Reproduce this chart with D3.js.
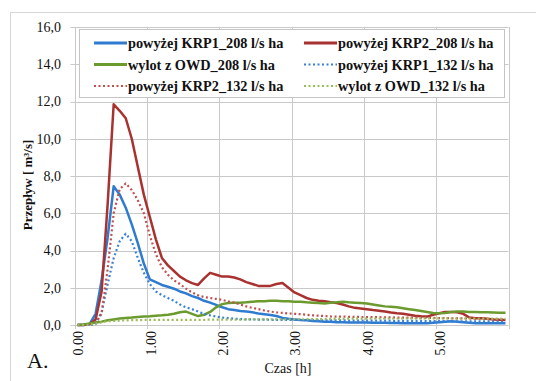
<!DOCTYPE html>
<html>
<head>
<meta charset="utf-8">
<script src="https://cdn.jsdelivr.net/npm/d3@7"></script>
<style>
body { margin:0; background:#fff; }
text { font-family:"Liberation Serif","Times New Roman",serif; fill:#111; }
</style>
</head>
<body>
<script>
// przeplyw w czasie, krok 5 min
var steps = d3.range(72);   // kategorie 0:00 .. 5:55
var xTickIdx = [0, 12, 24, 36, 48, 60];
var xTickLabels = ["0.00", "1.00", "2.00", "3.00", "4.00", "5.00"];
var yTicks = [0, 2, 4, 6, 8, 10, 12, 14, 16];

var krp1_208 = [0, 0, 0.05, 0.6, 2.4, 4.7, 7.45, 7.0, 6.3, 5.4,
	4.4, 3.3, 2.45, 2.3, 2.15, 2.05, 1.95, 1.8, 1.7, 1.55,
	1.45, 1.3, 1.2, 1.08, 0.95, 0.85, 0.8, 0.75, 0.72, 0.68,
	0.62, 0.58, 0.54, 0.48, 0.38, 0.33, 0.3, 0.27, 0.25, 0.22,
	0.2, 0.18, 0.17, 0.15, 0.15, 0.14, 0.14, 0.13, 0.13, 0.12,
	0.12, 0.12, 0.11, 0.11, 0.1, 0.1, 0.1, 0.09, 0.09, 0.12,
	0.15, 0.18, 0.2, 0.18, 0.15, 0.12, 0.1, 0.1, 0.09, 0.09,
	0.09, 0.1];
var krp2_208 = [0, 0, 0.05, 0.3, 1.8, 6.5, 11.85, 11.5, 11.1, 10.0,
	8.5, 7.0, 5.8, 4.6, 3.6, 3.2, 2.9, 2.6, 2.4, 2.25,
	2.15, 2.5, 2.8, 2.7, 2.6, 2.6, 2.55, 2.45, 2.3, 2.2,
	2.1, 2.1, 2.1, 2.2, 2.25, 2.0, 1.75, 1.6, 1.45, 1.35,
	1.3, 1.27, 1.22, 1.18, 1.1, 1.0, 0.92, 0.88, 0.84, 0.8,
	0.77, 0.72, 0.67, 0.63, 0.6, 0.55, 0.5, 0.47, 0.45, 0.55,
	0.63, 0.7, 0.7, 0.68, 0.6, 0.4, 0.36, 0.36, 0.33, 0.3,
	0.28, 0.27];
var owd_208 = [0, 0.03, 0.08, 0.13, 0.18, 0.25, 0.3, 0.35, 0.38, 0.4,
	0.43, 0.45, 0.47, 0.5, 0.52, 0.55, 0.6, 0.68, 0.72, 0.6,
	0.48, 0.55, 0.7, 0.95, 1.12, 1.18, 1.2, 1.2, 1.22, 1.25,
	1.27, 1.28, 1.3, 1.3, 1.28, 1.27, 1.25, 1.25, 1.22, 1.2,
	1.18, 1.16, 1.2, 1.22, 1.25, 1.22, 1.2, 1.18, 1.15, 1.1,
	1.05, 1.0, 0.98, 0.95, 0.9, 0.85, 0.8, 0.75, 0.7, 0.65,
	0.63, 0.65, 0.7, 0.72, 0.72, 0.7, 0.7, 0.68, 0.68, 0.67,
	0.66, 0.66];
var krp1_132 = [0, 0, 0, 0.05, 0.7, 2.2, 3.6, 4.5, 4.9, 4.5,
	3.6, 2.8, 2.2, 1.8, 1.6, 1.45, 1.3, 1.1, 0.95, 0.85,
	0.72, 0.6, 0.52, 0.45, 0.4, 0.37, 0.34, 0.32, 0.3, 0.3,
	0.29, 0.29, 0.28, 0.28, 0.28, 0.27, 0.27, 0.27, 0.26, 0.26,
	0.26, 0.25, 0.25, 0.25, 0.25, 0.24, 0.24, 0.24, 0.24, 0.23,
	0.23, 0.23, 0.23, 0.22, 0.22, 0.22, 0.22, 0.22, 0.21, 0.21,
	0.21, 0.21, 0.2, 0.2, 0.2, 0.2, 0.2, 0.19, 0.19, 0.19,
	0.18, 0.18];
var krp2_132 = [0, 0, 0, 0.1, 0.6, 3.0, 6.0, 7.3, 7.6, 7.25,
	6.7, 6.0, 4.8, 3.8, 3.1, 2.7, 2.4, 2.2, 1.95, 1.75,
	1.6, 1.5, 1.45, 1.4, 1.35, 1.27, 1.2, 1.1, 1.0, 0.92,
	0.85, 0.78, 0.72, 0.68, 0.65, 0.62, 0.6, 0.58, 0.55, 0.52,
	0.5, 0.48, 0.46, 0.45, 0.45, 0.44, 0.44, 0.43, 0.43, 0.42,
	0.42, 0.41, 0.41, 0.4, 0.4, 0.4, 0.39, 0.39, 0.38, 0.38,
	0.37, 0.37, 0.36, 0.36, 0.35, 0.35, 0.34, 0.33, 0.32, 0.31,
	0.3, 0.29];
var owd_132 = [0, 0, 0.02, 0.08, 0.15, 0.2, 0.22, 0.24, 0.25, 0.26,
	0.26, 0.27, 0.27, 0.27, 0.28, 0.28, 0.28, 0.28, 0.28, 0.28,
	0.28, 0.28, 0.29, 0.29, 0.29, 0.29, 0.29, 0.29, 0.3, 0.3,
	0.3, 0.3, 0.3, 0.3, 0.3, 0.31, 0.31, 0.31, 0.31, 0.32,
	0.32, 0.32, 0.33, 0.33, 0.33, 0.34, 0.34, 0.34, 0.34, 0.35,
	0.35, 0.35, 0.35, 0.35, 0.36, 0.36, 0.36, 0.36, 0.36, 0.36,
	0.36, 0.36, 0.35, 0.35, 0.35, 0.35, 0.35, 0.34, 0.34, 0.34,
	0.34, 0.33];

var seriesNames = ["powyżej KRP1_208 l/s ha", "powyżej KRP2_208 l/s ha", "wylot z OWD_208 l/s ha",
	"powyżej KRP1_132 l/s ha", "powyżej KRP2_132 l/s ha", "wylot z OWD_132 l/s ha"];
var seriesValues = [krp1_208, krp2_208, owd_208, krp1_132, krp2_132, owd_132];
var seriesColors = ["#2f7bd0", "#a8322f", "#6b9a2e", "#3a80d4", "#c0504d", "#9bbb59"];
var seriesDashed = [false, false, false, true, true, true];

var width = 536, height = 381;

var svg = d3.select("body")
	.append("svg")
	.attr("width", width)
	.attr("height", height);

// ramka wykresu
svg.append("rect")
	.attr("x", 10.5).attr("y", 12.5)
	.attr("width", 600).attr("height", 400)
	.attr("fill", "#fff")
	.attr("stroke", "#d6d6d6");

var x = d3.scaleBand()
	.domain(steps)
	.range([74.5, 508.5]);

var y = d3.scaleLinear()
	.domain([0, 16])
	.range([325, 27]);

// siatka pozioma
svg.selectAll(".hgrid")
	.data(yTicks)
	.enter()
	.append("line")
	.attr("class", "hgrid")
	.attr("x1", x.range()[0] - 4).attr("x2", x.range()[1])
	.attr("y1", function(d){ return Math.round(y(d)) + 0.5; })
	.attr("y2", function(d){ return Math.round(y(d)) + 0.5; })
	.attr("stroke", "#c9c9c9");

// siatka pionowa na granicach kategorii
var vlines = xTickIdx.map(function(i){ return x(i); }).concat([x.range()[1]]);
svg.selectAll(".vgrid")
	.data(vlines)
	.enter()
	.append("line")
	.attr("class", "vgrid")
	.attr("x1", function(d){ return Math.round(d) + 0.5; })
	.attr("x2", function(d){ return Math.round(d) + 0.5; })
	.attr("y1", y(16))
	.attr("y2", y(0) + 4)
	.attr("stroke", "#c9c9c9");

svg.selectAll(".ylab")
	.data(yTicks)
	.enter()
	.append("text")
	.attr("class", "ylab")
	.attr("x", 61)
	.attr("y", function(d){ return y(d); })
	.attr("dy", "0.35em")
	.attr("text-anchor", "end")
	.style("font-size", "14px")
	.text(function(d){ return d.toFixed(1).replace(".", ","); });

svg.selectAll(".xlab")
	.data(xTickIdx)
	.enter()
	.append("text")
	.attr("class", "xlab")
	.attr("transform", function(d, i){
		return "translate(" + (x(d) + x.bandwidth() / 2 + 1) + "," + 331 + ") rotate(-90)";
	})
	.attr("dy", "0.35em")
	.attr("text-anchor", "end")
	.style("font-size", "14px")
	.text(function(d, i){ return xTickLabels[i]; });

var line = d3.line()
	.x(function(d, i){ return x(i) + x.bandwidth() / 2; })
	.y(function(d){ return y(d); });

svg.selectAll(".series")
	.data(seriesValues)
	.enter()
	.append("path")
	.attr("class", "series")
	.attr("d", line)
	.attr("fill", "none")
	.attr("stroke", function(d, i){ return seriesColors[i]; })
	.attr("stroke-width", function(d, i){ return seriesDashed[i] ? 2.2 : 2.5; })
	.attr("stroke-dasharray", function(d, i){ return seriesDashed[i] ? "2,2.5" : null; })
	.attr("stroke-linejoin", "round");

// legenda
var legend = svg.append("g");
legend.append("rect")
	.attr("x", 79.5).attr("y", 29.5)
	.attr("width", 425).attr("height", 68)
	.attr("fill", "#fff")
	.attr("stroke", "#c4c4c4");

var items = legend.selectAll(".item")
	.data(seriesNames)
	.enter()
	.append("g")
	.attr("class", "item")
	.attr("transform", function(d, i){
		return "translate(" + (i % 2 == 0 ? 94 : 304) + "," + (43 + Math.floor(i / 2) * 21.5) + ")";
	});

items.append("line")
	.attr("x1", 0).attr("x2", 33)
	.attr("y1", 0).attr("y2", 0)
	.attr("stroke", function(d, i){ return seriesColors[i]; })
	.attr("stroke-width", function(d, i){ return seriesDashed[i] ? 2.2 : 3; })
	.attr("stroke-dasharray", function(d, i){ return seriesDashed[i] ? "2,2.5" : null; });

items.append("text")
	.attr("x", 34)
	.attr("dy", "0.35em")
	.style("font-size", "14.3px")
	.style("font-weight", "bold")
	.text(function(d){ return d; });

svg.append("text")
	.attr("transform", "translate(32,185) rotate(-90)")
	.attr("text-anchor", "middle")
	.style("font-size", "13px")
	.style("font-weight", "bold")
	.text("Przepływ [ m³/s]");

svg.append("text")
	.attr("x", 288)
	.attr("y", 373)
	.attr("text-anchor", "middle")
	.style("font-size", "14px")
	.text("Czas [h]");

svg.append("text")
	.attr("x", 27)
	.attr("y", 368)
	.style("font-size", "22px")
	.text("A.");
</script>
</body>
</html>
